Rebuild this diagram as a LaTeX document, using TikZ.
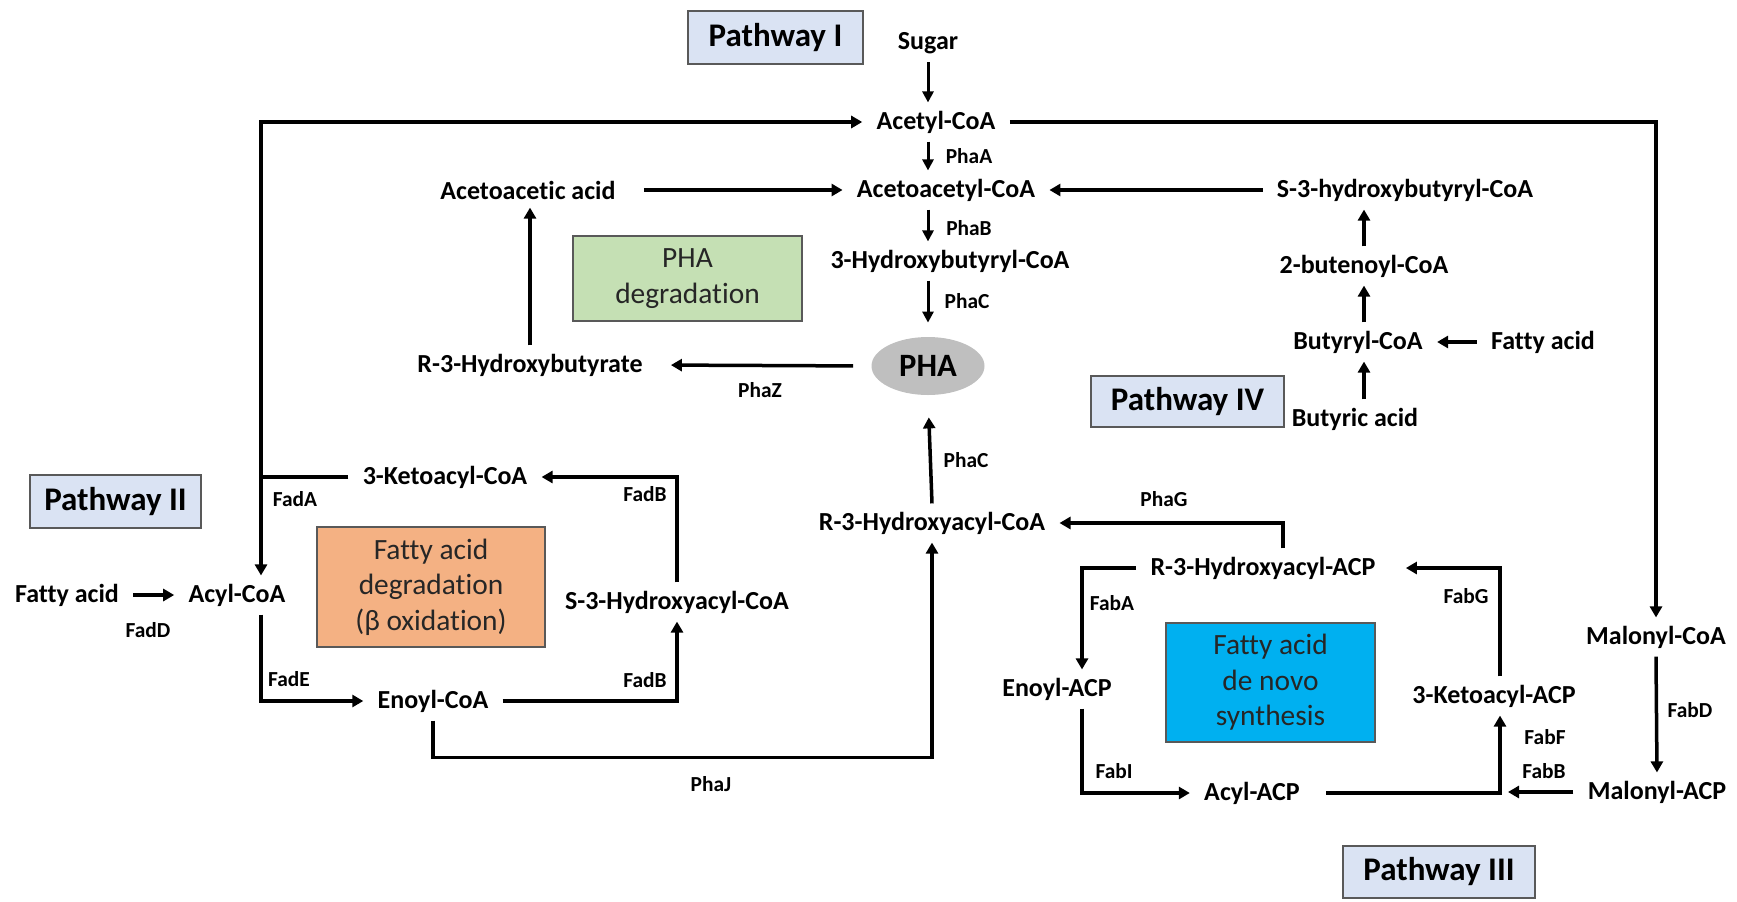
\documentclass[tikz,border=0pt]{standalone}
\usepackage{fontspec}
\setmainfont{Carlito}[Ligatures=NoCommon]
\usetikzlibrary{arrows.meta,calc,shapes.geometric}
\definecolor{pwfill}{HTML}{DAE3F3}
\definecolor{boxline}{HTML}{595959}
\definecolor{degfill}{HTML}{C5E0B4}
\definecolor{oxfill}{HTML}{F4B183}
\definecolor{synfill}{HTML}{00B0F0}
\definecolor{phafill}{HTML}{BFBFBF}
\definecolor{boxtext}{HTML}{262626}
\begin{document}
\begin{tikzpicture}[x=0.5pt,y=-0.5pt,
  lbl/.style={font=\fontsize{13}{15}\selectfont\bfseries, inner xsep=7pt, inner ysep=4pt},
  enz/.style={font=\fontsize{10.7}{12}\selectfont\bfseries, inner sep=0pt},
  pw/.style={draw=boxline, fill=pwfill, line width=0.8pt, inner sep=0pt,
    font=\fontsize{16.5}{19}\selectfont\bfseries},
  cbox/.style={draw=boxline, line width=0.8pt, inner sep=0pt, align=center,
    text=boxtext, font=\fontsize{14.7}{17.75}\selectfont},
  arr/.style={line width=1.75pt, -{Triangle[length=5.5pt,width=6pt]}},
  thinarr/.style={line width=1.5pt, -{Triangle[length=5.5pt,width=5.5pt]}},
  plain/.style={line width=1.75pt}
]
\useasboundingbox (0,0) rectangle (1737,901);

% pathway boxes
\node[pw, minimum width=87.5pt, minimum height=26.5pt] (pw1) at (775.5,37.5) {Pathway I};
\node[pw, minimum width=85.5pt, minimum height=26.5pt] (pw2) at (115.5,501.5) {Pathway II};
\node[pw, minimum width=96pt, minimum height=26pt] (pw3) at (1439,872) {Pathway III};
\node[pw, minimum width=96.5pt, minimum height=25.5pt] (pw4) at (1187.5,401.5) {Pathway IV};

% coloured boxes
\node[cbox, fill=degfill, minimum width=114.5pt, minimum height=42.5pt] (phadeg) at (687.5,278.5) {PHA\\degradation};
\node[cbox, fill=oxfill, minimum width=114pt, minimum height=60pt] (fadeg) at (431,587) {Fatty acid\\degradation\\(β oxidation)};
\node[cbox, fill=synfill, minimum width=104.5pt, minimum height=59.5pt] (denovo) at (1270.5,682.5) {Fatty acid\\de novo\\synthesis};

% PHA
\node[ellipse, fill=phafill, minimum width=56.5pt, minimum height=29pt, inner sep=0pt,
  font=\fontsize{16.3}{19}\selectfont\bfseries] (pha) at (928,366) {PHA};

% metabolites
\node[lbl] (sugar) at (928,43) {Sugar};
\node[lbl] (acetyl) at (936,122) {Acetyl-CoA};
\node[lbl] (acetoacetyl) at (946,190) {Acetoacetyl-CoA};
\node[lbl] (hbcoa) at (950,261) {3-Hydroxybutyryl-CoA};
\node[lbl] (r3hacoa) at (932,523) {R-3-Hydroxyacyl-CoA};
\node[lbl] (acacid) at (528,190) {Acetoacetic acid};
\node[lbl] (r3hb) at (530,365) {R-3-Hydroxybutyrate};
\node[lbl] (s3hb) at (1405,190) {S-3-hydroxybutyryl-CoA};
\node[lbl] (buten) at (1364,266) {2-butenoyl-CoA};
\node[lbl] (butyryl) at (1358,342) {Butyryl-CoA};
\node[lbl] (fattyR) at (1543,342) {Fatty acid};
\node[lbl] (butyric) at (1355,419) {Butyric acid};
\node[lbl] (ketoacyl) at (445,477) {3-Ketoacyl-CoA};
\node[lbl] (fattyL) at (67,595) {Fatty acid};
\node[lbl] (acyl) at (237,595) {Acyl-CoA};
\node[lbl] (s3ha) at (677,602) {S-3-Hydroxyacyl-CoA};
\node[lbl] (enoyl) at (433,701) {Enoyl-CoA};
\node[lbl] (r3hacp) at (1263,568) {R-3-Hydroxyacyl-ACP};
\node[lbl] (enoylacp) at (1057,689) {Enoyl-ACP};
\node[lbl] (ketoacp) at (1494,696) {3-Ketoacyl-ACP};
\node[lbl] (acylacp) at (1252,793) {Acyl-ACP};
\node[lbl] (malcoa) at (1656,637) {Malonyl-CoA};
\node[lbl] (malacp) at (1657,792) {Malonyl-ACP};

% enzymes
\node[enz] (phaA) at (969,156) {PhaA};
\node[enz] (phaB) at (969,228) {PhaB};
\node[enz] (phaC) at (967,301) {PhaC};
\node[enz] (phaC2) at (966,460) {PhaC};
\node[enz] (phaZ) at (760,390) {PhaZ};
\node[enz] (fadA) at (295,499) {FadA};
\node[enz] (fadB1) at (645,494) {FadB};
\node[enz] (fadD) at (148,630) {FadD};
\node[enz] (fadE) at (289,679) {FadE};
\node[enz] (fadB2) at (645,680) {FadB};
\node[enz] (phaJ) at (711,784) {PhaJ};
\node[enz] (phaG) at (1164,499) {PhaG};
\node[enz] (fabA) at (1112,603) {FabA};
\node[enz] (fabG) at (1466,596) {FabG};
\node[enz] (fabI) at (1114,771) {FabI};
\node[enz] (fabF) at (1545,737) {FabF};
\node[enz] (fabB) at (1544,771) {FabB};
\node[enz] (fabD) at (1690,710) {FabD};

% ---- Pathway I
\draw[thinarr] (sugar.south) -- (sugar.south |- acetyl.north);
\draw[thinarr] (acetyl.south -| sugar) -- (acetoacetyl.north -| sugar);
\draw[thinarr] (acetoacetyl.south -| sugar) -- (hbcoa.north -| sugar);
\draw[thinarr, shorten >=7pt] (hbcoa.south -| sugar) -- (pha.north);
\draw[arr, shorten >=11pt] (r3hacoa.north) -- (pha.south);

% PHA degradation
\draw[arr, shorten <=9pt, shorten >=7pt] (pha.west) -- (r3hb.east);
\draw[arr] (r3hb.north) -- (r3hb.north |- acacid.south);
\draw[arr, shorten <=7pt] (acacid.east) -- (acetoacetyl.west);

% Pathway IV
\draw[arr] (s3hb.west) -- (acetoacetyl.east);
\draw[arr] (buten.north) -- (buten.north |- s3hb.south);
\draw[arr] (butyryl.north -| buten) -- (buten.south);
\draw[arr] (butyric.north -| buten) -- (butyryl.south -| buten);
\draw[arr] (fattyR.west) -- (butyryl.east);

% ---- Pathway II
\coordinate (jk) at (261,477);
\draw[plain] (ketoacyl.west) -- (jk);
\draw[arr] (jk) |- (acetyl.west);
\draw[arr] (jk) -- (jk |- acyl.north);
\draw[arr] (fattyL.east) -- (acyl.west);
\draw[arr] (acyl.south -| jk) |- (enoyl.west);
\draw[arr] (enoyl.east) -| (s3ha.south);
\draw[arr] (s3ha.north) |- (ketoacyl.east);
\draw[arr] (enoyl.south) -- ++(0,37) -| (r3hacoa.south);

% ---- Pathway III
\draw[arr] (acetyl.east) -| (malcoa.north);
\draw[arr] (malcoa.south) -- (malacp.north);
\draw[arr] ($(r3hacp.north)+(20,0)$) |- (r3hacoa.east);
\draw[arr] (r3hacp.west) -| ($(enoylacp.north)+(25,0)$);
\draw[arr] ($(enoylacp.south)+(25,0)$) |- (acylacp.west);
\coordinate (kj) at ($(ketoacp.south)+(6,0)$);
\draw[arr, shorten <=6pt] (acylacp.east) -| (kj);
\draw[arr, shorten >=8pt] (kj |- ketoacp.north) |- (r3hacp.east);
\draw[arr] (malacp.west) -- ([xshift=4pt]kj |- malacp.west);

\end{tikzpicture}
\end{document}
